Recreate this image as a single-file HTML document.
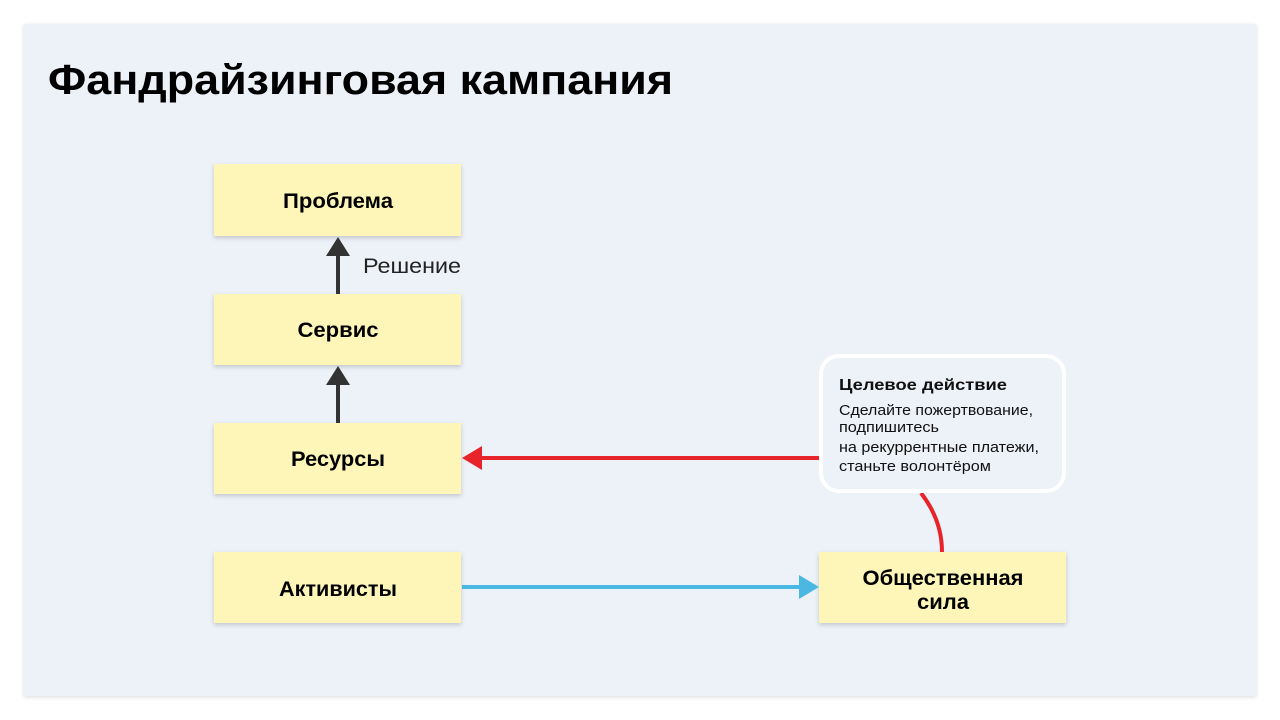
<!DOCTYPE html>
<html><head><meta charset="utf-8"><style>
body{margin:0;width:1280px;height:720px;background:#fff;overflow:hidden}
svg{display:block}
text{font-family:"Liberation Sans",sans-serif}
</style></head><body>
<svg width="1280" height="720" viewBox="0 0 1280 720">
<defs>
<filter id="sh" x="-10%" y="-10%" width="120%" height="130%"><feDropShadow dx="0" dy="2" stdDeviation="2" flood-color="#000" flood-opacity="0.18"/></filter>
<filter id="sh2" x="-5%" y="-5%" width="110%" height="110%"><feDropShadow dx="0" dy="1" stdDeviation="2" flood-color="#000" flood-opacity="0.15"/></filter>
</defs>
<rect x="24" y="24" width="1232" height="672" fill="#edf1f8" filter="url(#sh2)"/>
<text x="48" y="94" font-size="42" font-weight="bold" fill="#000" textLength="625" lengthAdjust="spacingAndGlyphs">Фандрайзинговая кампания</text>

<g filter="url(#sh)" fill="#fdf6b8">
<rect x="214" y="164" width="247" height="72"/>
<rect x="214" y="294" width="247" height="71"/>
<rect x="214" y="423" width="247" height="71"/>
<rect x="214" y="552" width="247" height="71"/>
<rect x="819" y="552" width="247" height="71"/>
</g>
<g font-size="21" font-weight="bold" text-anchor="middle" fill="#000">
<text x="338" y="208" textLength="110" lengthAdjust="spacingAndGlyphs">Проблема</text>
<text x="338" y="337" textLength="81" lengthAdjust="spacingAndGlyphs">Сервис</text>
<text x="338" y="466" textLength="94" lengthAdjust="spacingAndGlyphs">Ресурсы</text>
<text x="338" y="596" textLength="118" lengthAdjust="spacingAndGlyphs">Активисты</text>
<text x="943" y="585" textLength="161" lengthAdjust="spacingAndGlyphs">Общественная</text>
<text x="943" y="609" textLength="52" lengthAdjust="spacingAndGlyphs">сила</text>
</g>

<line x1="338" y1="294" x2="338" y2="254" stroke="#333" stroke-width="4"/>
<polygon points="338,237 326,256 350,256" fill="#333"/>
<line x1="338" y1="423" x2="338" y2="383" stroke="#333" stroke-width="4"/>
<polygon points="338,366 326,385 350,385" fill="#333"/>
<text x="363" y="273" font-size="21" fill="#222" textLength="98" lengthAdjust="spacingAndGlyphs">Решение</text>

<line x1="821" y1="458" x2="480" y2="458" stroke="#e8242b" stroke-width="4"/>
<polygon points="462,458 482,446 482,470" fill="#e8242b"/>
<path d="M921,493 Q942,520 942,552" stroke="#e8242b" stroke-width="4" fill="none"/>

<line x1="462" y1="587" x2="802" y2="587" stroke="#4ab8e0" stroke-width="4"/>
<polygon points="819,587 799,575 799,599" fill="#4ab8e0"/>

<rect x="821" y="356" width="243" height="135" rx="18" fill="#edf1f8" stroke="#fff" stroke-width="4"/>
<text x="839" y="390" font-size="16" font-weight="bold" fill="#111" textLength="168" lengthAdjust="spacingAndGlyphs">Целевое действие</text>
<g font-size="15" fill="#111">
<text x="839" y="415" textLength="194" lengthAdjust="spacingAndGlyphs">Сделайте пожертвование,</text>
<text x="839" y="432" textLength="100" lengthAdjust="spacingAndGlyphs">подпишитесь</text>
<text x="839" y="452" textLength="200" lengthAdjust="spacingAndGlyphs">на рекуррентные платежи,</text>
<text x="839" y="471" textLength="152" lengthAdjust="spacingAndGlyphs">станьте волонтёром</text>
</g>
</svg>
</body></html>
